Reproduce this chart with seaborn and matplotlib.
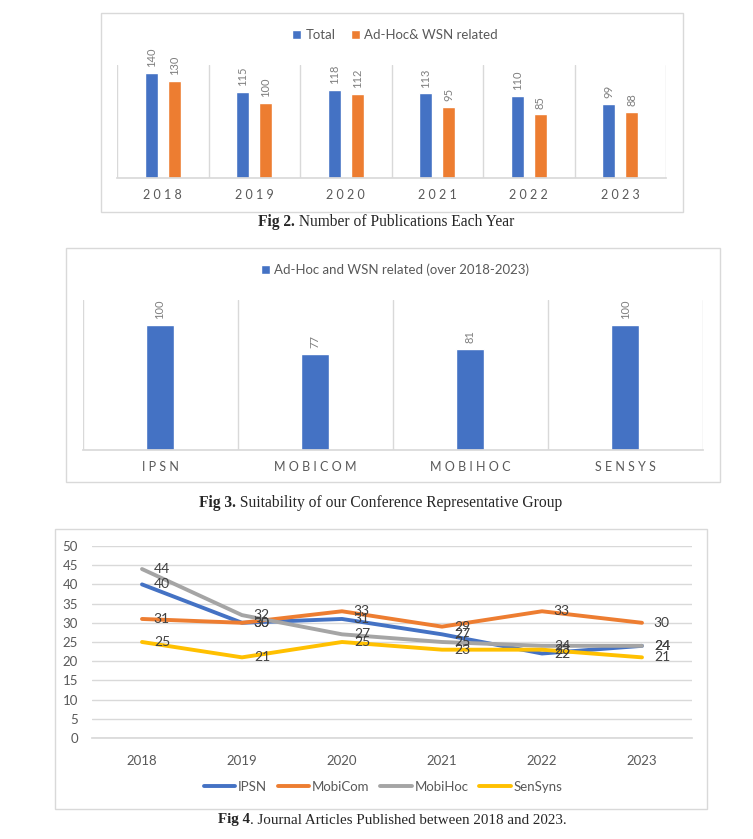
import matplotlib
matplotlib.use('Agg')
import matplotlib.pyplot as plt
from matplotlib.patches import Rectangle
import seaborn as sns
import pandas as pd

# Fig 2 data
years = ['2018', '2019', '2020', '2021', '2022', '2023']
total_pubs = [140, 115, 118, 113, 110, 99]
adhoc_pubs = [130, 100, 112, 95, 85, 88]

# Fig 3 data
conferences = ['IPSN', 'MOBICOM', 'MOBIHOC', 'SENSYS']
conf_related = [100, 77, 81, 100]

# Fig 4 data
venues = ['IPSN', 'MobiCom', 'MobiHoc', 'SenSyns']
ipsn = [40, 30, 31, 27, 22, 24]
mobicom = [31, 30, 33, 29, 33, 30]
mobihoc = [44, 32, 27, 25, 24, 24]
sensyns = [25, 21, 25, 23, 23, 21]

BLUE, ORANGE, GRAY, YELLOW = '#4472C4', '#ED7D31', '#A5A5A5', '#FFC000'
GRID = '#D9D9D9'
TXT = '#595959'

sns.set_theme(style="white")
plt.rcParams['font.family'] = ['Lato', 'DejaVu Sans']

W, H = 753, 839
fig = plt.figure(figsize=(W / 100, H / 100), dpi=100)
fig.patch.set_facecolor('white')


def px_box(l, t, r, b):
    return [l / W, 1 - b / H, (r - l) / W, (b - t) / H]


def frame(l, t, r, b):
    fig.add_artist(Rectangle((l / W, 1 - b / H), (r - l) / W, (b - t) / H,
                             transform=fig.transFigure, fill=False,
                             edgecolor=GRID, linewidth=1))


def caption(x, y, bold, rest, size=11.2):
    t1 = fig.text(x / W, 1 - y / H, bold, family='Liberation Serif',
                  fontweight='bold', fontsize=size, va='center', ha='left')
    fig.canvas.draw()
    bb = t1.get_window_extent()
    fig.text(bb.x1 / W, 1 - y / H, rest, family='Liberation Serif',
             fontsize=size, va='center', ha='left')


def bar_style(ax, n):
    ax.set_xlim(-0.5, n - 0.5)
    ax.set_xticks([i - 0.5 for i in range(n + 1)], minor=True)
    ax.grid(True, which='minor', axis='x', color=GRID, linewidth=1)
    ax.grid(False, which='major')
    ax.set_yticks([])
    for s in ['top', 'left', 'right']:
        ax.spines[s].set_visible(False)
    ax.spines['bottom'].set_color(GRID)
    ax.tick_params(axis='x', which='both', length=0, pad=8, labelsize=9, labelcolor=TXT)
    ax.set_xlabel('')
    ax.set_ylabel('')
    ax.set_facecolor('white')


# ---------- Fig 2 ----------
frame(101, 13, 683, 212)
ax1 = fig.add_axes(px_box(117, 65, 666, 178))
df1 = pd.DataFrame({
    'year': years * 2,
    'value': total_pubs + adhoc_pubs,
    'series': ['Total'] * len(years) + ['Ad-Hoc& WSN related'] * len(years),
})
sns.barplot(data=df1, x='year', y='value', hue='series', palette=[BLUE, ORANGE],
            saturation=1, width=0.5, gap=0.43, ax=ax1, legend=True)
ax1.set_ylim(0, 150.7)
for c in ax1.containers:
    ax1.bar_label(c, rotation=90, padding=4, fontsize=8, color='#7F7F7F')
bar_style(ax1, len(years))
ax1.set_xticks(range(len(years)))
ax1.set_xticklabels([' '.join(y) for y in years])
h, l = ax1.get_legend_handles_labels()
ax1.get_legend().remove()
fig.legend(h, l, loc='center', bbox_to_anchor=(395 / W, 1 - 35 / H), ncol=2,
           frameon=False, fontsize=9.5, handlelength=0.7, handleheight=0.7,
           handletextpad=0.3, columnspacing=1.2, labelcolor=TXT)
caption(258, 222, 'Fig 2.', ' Number of Publications Each Year')

# ---------- Fig 3 ----------
frame(66, 248, 720, 482)
ax2 = fig.add_axes(px_box(82.5, 300, 703, 450))
df2 = pd.DataFrame({'conf': conferences, 'value': conf_related,
                    'series': ['Ad-Hoc and WSN related (over 2018-2023)'] * len(conferences)})
sns.barplot(data=df2, x='conf', y='value', hue='series', palette=[BLUE],
            saturation=1, width=0.18, ax=ax2, legend=True)
ax2.set_ylim(0, 120)
for c in ax2.containers:
    ax2.bar_label(c, rotation=90, padding=4, fontsize=8, color='#7F7F7F')
bar_style(ax2, len(conferences))
ax2.set_xticks(range(len(conferences)))
ax2.set_xticklabels([' '.join(c) for c in conferences])
h, l = ax2.get_legend_handles_labels()
ax2.get_legend().remove()
fig.legend(h, l, loc='center', bbox_to_anchor=(395 / W, 1 - 270 / H), ncol=1,
           frameon=False, fontsize=9.5, handlelength=0.7, handleheight=0.7,
           handletextpad=0.3, labelcolor=TXT)
caption(199, 503, 'Fig 3.', ' Suitability of our Conference Representative Group')

# ---------- Fig 4 ----------
frame(55, 529, 707, 809)
ax3 = fig.add_axes(px_box(92, 546, 692, 738))
series = [ipsn, mobicom, mobihoc, sensyns]
df3 = pd.DataFrame({
    'year': years * len(venues),
    'count': [v for s in series for v in s],
    'venue': [name for name in venues for _ in years],
})
sns.lineplot(data=df3, x='year', y='count', hue='venue', sort=False,
             palette=[BLUE, ORANGE, GRAY, YELLOW], linewidth=2.8, ax=ax3)
for s in series:
    for i, v in enumerate(s):
        ax3.annotate(str(v), (i, v), xytext=(8.5, 0), textcoords='offset points',
                     ha='left', va='center', fontsize=10, color='#404040')
ax3.set_xlim(-0.5, len(years) - 0.5)
ax3.set_ylim(0, 50)
ax3.set_yticks(range(0, 51, 5))
ax3.grid(True, axis='y', color=GRID, linewidth=1)
ax3.grid(False, axis='x')
for s in ['top', 'left', 'right']:
    ax3.spines[s].set_visible(False)
ax3.spines['bottom'].set_color(GRID)
ax3.set_xticks(range(len(years)))
ax3.set_xticks([i - 0.5 for i in range(len(years) + 1)], minor=True)
ax3.tick_params(axis='x', which='major', length=0, pad=12, labelsize=9.5, labelcolor=TXT)
ax3.tick_params(axis='x', which='minor', length=5, color=GRID, width=1, direction='out')
ax3.tick_params(axis='y', length=0, pad=10, labelsize=9.5, labelcolor=TXT)
ax3.set_xlabel('')
ax3.set_ylabel('')
h, l = ax3.get_legend_handles_labels()
ax3.get_legend().remove()
fig.legend(h, l, loc='center', bbox_to_anchor=(383 / W, 1 - 787 / H), ncol=4,
           frameon=False, fontsize=9.5, handlelength=2.4, handletextpad=0.2,
           columnspacing=0.8, labelcolor=TXT)
caption(218, 820, 'Fig 4', '. Journal Articles Published between 2018 and 2023.', size=10.8)

fig.savefig('out.png', dpi=100, facecolor='white')
plt.close(fig)
